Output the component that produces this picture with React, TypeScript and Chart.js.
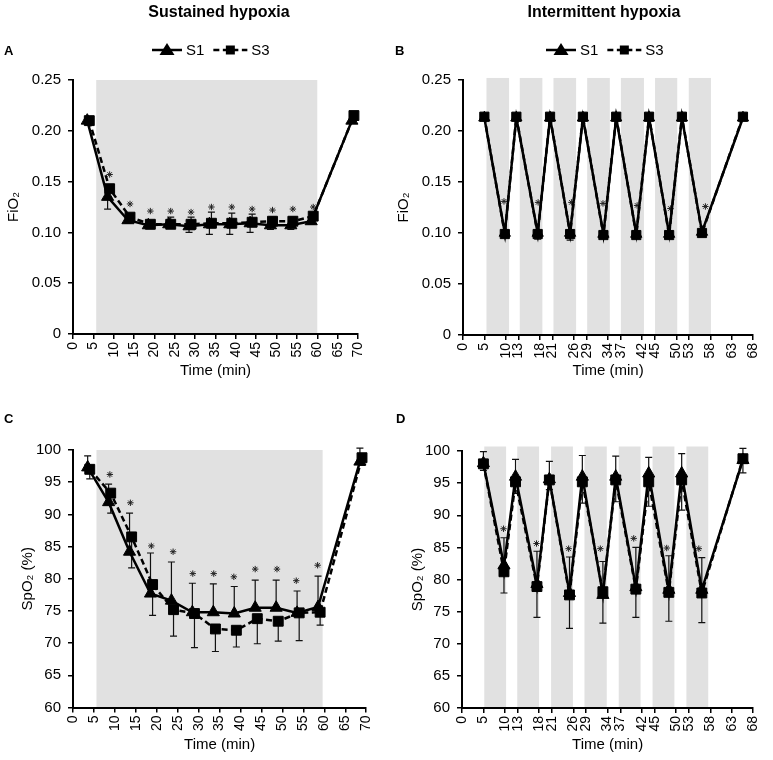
import React, { useEffect, useRef } from "react";
import { Chart, registerables } from "chart.js";

Chart.register(...registerables);

const FONT = "'Liberation Sans', Arial, Helvetica, sans-serif";
const SHADE = "#e1e1e1";

// ---------- text ----------
const PANEL_TITLES = ["Sustained hypoxia", "Intermittent hypoxia"];
const PANEL_LETTERS = ["A", "B", "C", "D"];
const LEGEND_LABELS = ["S1", "S3"];
const X_TITLE = "Time (min)";
const FIO2_TITLE = "FiO₂";
const SPO2_TITLE = "SpO₂ (%)";

// ---------- ticks ----------
const SH_X_TICKS = [0, 5, 10, 15, 20, 25, 30, 35, 40, 45, 50, 55, 60, 65, 70];
const IH_X_TICKS = [0, 5, 10, 13, 18, 21, 26, 29, 34, 37, 42, 45, 50, 53, 58, 63, 68];
const FIO2_TICKS = [0, 0.05, 0.1, 0.15, 0.2, 0.25];
const FIO2_TICK_LABELS = ["0", "0.05", "0.10", "0.15", "0.20", "0.25"];
const SPO2_TICKS = [60, 65, 70, 75, 80, 85, 90, 95, 100];
const SPO2_TICK_LABELS = ["60", "65", "70", "75", "80", "85", "90", "95", "100"];

// ---------- shaded hypoxic periods (min) ----------
const SH_SHADE_A = [[5.7, 60]];
const SH_SHADE_C = [[5.6, 59.6]];
const IH_SHADE_B = [[5.5, 10.8], [13.3, 18.6], [21.2, 26.5], [29.1, 34.4], [37, 42.4], [45, 50.2], [52.9, 58.1]];
const IH_SHADE_D = [[5.2, 10.3], [12.9, 18], [20.8, 25.9], [28.6, 33.8], [36.6, 41.7], [44.5, 49.6], [52.4, 57.5]];

// ---------- Sustained hypoxia ----------
const SH_TIME_S1 = [3.5, 8.5, 13.5, 18.5, 23.5, 28.5, 33.5, 38.5, 43.5, 48.5, 53.5, 58.5, 68.5];
const SH_TIME_S3 = [4, 9, 14, 19, 24, 29, 34, 39, 44, 49, 54, 59, 69];

const SH_FIO2_S1 = [0.21, 0.135, 0.112, 0.107, 0.108, 0.106, 0.108, 0.108, 0.109, 0.107, 0.107, 0.111, 0.21];
const SH_FIO2_S1_ERR = [0.002, 0.012, 0.003, 0.003, 0.003, 0.006, 0.01, 0.01, 0.009, 0.004, 0.004, 0.003, 0.002];
const SH_FIO2_S3 = [0.21, 0.143, 0.115, 0.108, 0.108, 0.108, 0.109, 0.109, 0.11, 0.111, 0.111, 0.116, 0.215];
const SH_FIO2_S3_ERR = [0.002, 0.004, 0.003, 0.003, 0.007, 0.007, 0.011, 0.01, 0.008, 0.004, 0.004, 0.003, 0.002];
const SH_FIO2_STAR_X = [9, 14, 19, 24, 29, 34, 39, 44, 49, 54, 59];
const SH_FIO2_STAR_Y = [0.157, 0.128, 0.121, 0.121, 0.12, 0.125, 0.125, 0.123, 0.122, 0.123, 0.125];

const SH_SPO2_S1 = [97.3, 91.9, 84.2, 77.7, 76.6, 74.8, 74.8, 74.6, 75.5, 75.5, 74.7, 75.6, 98.2];
const SH_SPO2_S1_ERR = [1.8, 2.8, 6.0, 6.3, 6.0, 4.5, 4.4, 4.2, 4.3, 4.3, 3.4, 4.8, 2.1];
const SH_SPO2_S3 = [97.0, 93.3, 86.5, 79.1, 75.2, 74.6, 72.2, 72.0, 73.8, 73.4, 74.7, 74.8, 98.8];
const SH_SPO2_S3_ERR = [1.5, 3.1, 4.8, 4.8, 4.1, 5.3, 3.5, 2.6, 3.9, 3.1, 4.3, 2.0, 1.2];
const SH_SPO2_STAR_X = [8.8, 13.7, 18.7, 23.9, 28.6, 33.6, 38.4, 43.5, 48.7, 53.3, 58.4];
const SH_SPO2_STAR_Y = [96.2, 91.8, 85.1, 84.2, 80.8, 80.8, 80.3, 81.5, 81.5, 79.7, 82.1];

// ---------- Intermittent hypoxia ----------
const IH_TIME = [5, 9.8, 12.5, 17.5, 20.4, 25.1, 28.1, 32.9, 35.9, 40.6, 43.6, 48.3, 51.3, 56, 65.6];

const IH_FIO2_S1 = [0.213, 0.1, 0.213, 0.1, 0.213, 0.1, 0.213, 0.099, 0.213, 0.099, 0.213, 0.099, 0.213, 0.101, 0.213];
const IH_FIO2_S1_ERR = [0.002, 0.002, 0.002, 0.002, 0.002, 0.002, 0.002, 0.002, 0.002, 0.002, 0.002, 0.002, 0.002, 0.002, 0.002];
const IH_FIO2_S3 = [0.214, 0.099, 0.214, 0.099, 0.214, 0.099, 0.214, 0.098, 0.214, 0.098, 0.214, 0.098, 0.214, 0.1, 0.214];
const IH_FIO2_S3_ERR = [0.002, 0.003, 0.002, 0.005, 0.002, 0.006, 0.002, 0.003, 0.002, 0.003, 0.002, 0.003, 0.002, 0.002, 0.002];
const IH_FIO2_STAR_X = [9.6, 17.6, 25.4, 32.8, 40.8, 48.6, 56.8];
const IH_FIO2_STAR_Y = [0.131, 0.13, 0.13, 0.129, 0.127, 0.124, 0.126];

const IH_SPO2_S1 = [98.1, 82.2, 96.0, 79.3, 95.6, 77.9, 96.0, 77.6, 96.0, 78.8, 96.5, 78.4, 96.5, 78.4, 98.6];
const IH_SPO2_S1_ERR = [1.8, 4.3, 2.7, 5.1, 2.8, 5.6, 3.3, 5.2, 3.2, 6.2, 2.5, 5.3, 3.1, 5.0, 1.8];
const IH_SPO2_S3 = [98.0, 81.2, 95.2, 78.9, 95.5, 77.6, 95.2, 78.1, 95.5, 78.5, 95.2, 78.0, 95.5, 77.9, 98.8];
const IH_SPO2_S3_ERR = [1.0, 3.3, 1.8, 4.8, 1.5, 5.2, 3.3, 4.9, 3.4, 4.4, 3.8, 4.5, 4.7, 4.6, 2.2];
const IH_SPO2_STAR_X = [9.7, 17.4, 24.9, 32.3, 40.1, 47.8, 55.3];
const IH_SPO2_STAR_Y = [87.9, 85.6, 84.8, 84.8, 86.4, 84.9, 84.8];

type PanelCfg = {
  w: number;
  h: number;
  left: number;
  top: number;
  pad: { left: number; right: number; top: number; bottom: number };
  yW: number;
  xH: number;
  yTitlePad: number;
  xTitlePad: number;
  xMin: number;
  xMax: number;
  xTicks: number[];
  yMin: number;
  yMax: number;
  yTicks: number[];
  yLabels: string[];
  yTitle: string;
  shade: number[][];
  shadeTop: number;
  t1: number[];
  t3: number[];
  s1: number[];
  s3: number[];
  e1: number[];
  e3: number[];
  d1: number;
  d3: number;
  starX: number[];
  starY: number[];
  r: number;
  legendX?: number;
  legendY?: number;
};

function drawLegend(ctx: CanvasRenderingContext2D, x0: number, y: number) {
  ctx.save();
  ctx.font = `15px ${FONT}`;
  ctx.textBaseline = "middle";
  ctx.textAlign = "left";
  ctx.fillStyle = "#000";
  ctx.strokeStyle = "#000";
  ctx.lineWidth = 2.5;
  let x = x0;
  LEGEND_LABELS.forEach((lab, i) => {
    const len = i === 0 ? 30 : 34;
    ctx.setLineDash(i === 0 ? [] : [6, 3.5]);
    ctx.beginPath();
    ctx.moveTo(x, y);
    ctx.lineTo(x + len, y);
    ctx.stroke();
    ctx.setLineDash([]);
    const cx = x + len / 2;
    ctx.beginPath();
    if (i === 0) {
      ctx.moveTo(cx, y - 7);
      ctx.lineTo(cx + 7.5, y + 5);
      ctx.lineTo(cx - 7.5, y + 5);
      ctx.closePath();
    } else {
      ctx.rect(cx - 4.5, y - 4.5, 9, 9);
    }
    ctx.fill();
    x += len + 4;
    ctx.fillText(lab, x, y + 1);
    x += ctx.measureText(lab).width + 9;
  });
  ctx.restore();
}

function makeDecor(p: PanelCfg) {
  return {
    id: "decor",
    beforeDraw(chart: any) {
      const { ctx } = chart;
      const xs = chart.scales.x;
      const ys = chart.scales.y;
      ctx.save();
      ctx.fillStyle = SHADE;
      const yt = ys.getPixelForValue(p.shadeTop);
      const yb = ys.getPixelForValue(p.yMin);
      for (const [a, b] of p.shade) {
        const x0 = xs.getPixelForValue(a);
        const x1 = xs.getPixelForValue(b);
        ctx.fillRect(x0, yt, x1 - x0, yb - yt);
      }
      ctx.restore();
    },
    beforeDatasetsDraw(chart: any) {
      const { ctx } = chart;
      const xs = chart.scales.x;
      const ys = chart.scales.y;
      ctx.save();
      ctx.strokeStyle = "#111";
      ctx.lineWidth = 1.2;
      chart.data.datasets.forEach((ds: any) => {
        if (!ds.err) return;
        ds.data.forEach((pt: any, j: number) => {
          const e = ds.err[j];
          const px = xs.getPixelForValue(pt.x);
          const py = ys.getPixelForValue(pt.y);
          const pe = ys.getPixelForValue(pt.y + ds.errDir * e);
          ctx.beginPath();
          ctx.moveTo(px, py);
          ctx.lineTo(px, pe);
          ctx.moveTo(px - 3.5, pe);
          ctx.lineTo(px + 3.5, pe);
          ctx.stroke();
        });
      });
      ctx.restore();
    },
    afterDraw(chart: any) {
      if (p.legendX !== undefined) drawLegend(chart.ctx, p.legendX, p.legendY || 50);
    },
  };
}

function buildConfig(p: PanelCfg): any {
  const xTickFont = { family: FONT, size: 14 };
  const yTickFont = { family: FONT, size: 15 };
  const titleFont = { family: FONT, size: 15 };
  const datasets = [
    {
      label: LEGEND_LABELS[0],
      data: p.t1.map((t, i) => ({ x: t, y: p.s1[i] })),
      showLine: true,
      borderColor: "#000",
      backgroundColor: "#000",
      borderWidth: 2.5,
      pointStyle: "triangle",
      pointRadius: p.r,
      pointBorderWidth: 1,
      pointBorderColor: "#000",
      pointBackgroundColor: "#000",
      tension: 0,
      clip: false,
      err: p.e1,
      errDir: p.d1,
    },
    {
      label: LEGEND_LABELS[1],
      data: p.t3.map((t, i) => ({ x: t, y: p.s3[i] })),
      showLine: true,
      borderColor: "#000",
      backgroundColor: "#000",
      borderWidth: 2.5,
      borderDash: [6, 3.5],
      pointStyle: "rect",
      pointRadius: p.r,
      pointBorderWidth: 1,
      pointBorderColor: "#000",
      pointBackgroundColor: "#000",
      tension: 0,
      clip: false,
      err: p.e3,
      errDir: p.d3,
    },
    {
      label: "*",
      data: p.starX.map((x, i) => ({ x, y: p.starY[i] })),
      showLine: false,
      pointStyle: "star",
      pointRadius: 3.2,
      pointBorderWidth: 1,
      pointBorderColor: "#222",
      borderColor: "#222",
      backgroundColor: "#222",
      clip: false,
    },
  ];
  return {
    type: "scatter",
    data: { datasets },
    plugins: [makeDecor(p)],
    options: {
      responsive: false,
      maintainAspectRatio: false,
      animation: false,
      events: [],
      layout: { padding: p.pad },
      plugins: {
        legend: { display: false },
        tooltip: { enabled: false },
        title: { display: false },
      },
      scales: {
        x: {
          type: "linear",
          min: p.xMin,
          max: p.xMax,
          afterBuildTicks: (s: any) => {
            s.ticks = p.xTicks.map((v) => ({ value: v }));
          },
          afterFit: (s: any) => {
            s.height = p.xH;
          },
          ticks: {
            autoSkip: false,
            minRotation: 90,
            maxRotation: 90,
            padding: 3,
            color: "#000",
            font: xTickFont,
            callback: (v: any) => String(v),
          },
          grid: { drawOnChartArea: false, drawTicks: true, tickLength: 5, color: "#000", lineWidth: 1.5 },
          border: { display: true, color: "#000", width: 2 },
          title: {
            display: true,
            text: X_TITLE,
            color: "#000",
            font: titleFont,
            padding: { top: 0, bottom: p.xTitlePad },
          },
        },
        y: {
          type: "linear",
          min: p.yMin,
          max: p.yMax,
          afterBuildTicks: (s: any) => {
            s.ticks = p.yTicks.map((v) => ({ value: v }));
          },
          afterFit: (s: any) => {
            s.width = p.yW;
          },
          ticks: {
            autoSkip: false,
            padding: 7,
            color: "#000",
            font: yTickFont,
            callback: (_v: any, i: number) => p.yLabels[i],
          },
          grid: { drawOnChartArea: false, drawTicks: true, tickLength: 5, color: "#000", lineWidth: 1.5 },
          border: { display: true, color: "#000", width: 2 },
          title: {
            display: true,
            text: p.yTitle,
            color: "#000",
            font: titleFont,
            padding: { top: p.yTitlePad, bottom: 0 },
          },
        },
      },
    },
  };
}

const PANELS: PanelCfg[] = [
  {
    w: 386, h: 380, left: 0, top: 0,
    pad: { left: 0, right: 28, top: 80, bottom: 0 },
    yW: 73, xH: 46, yTitlePad: 5, xTitlePad: 0,
    xMin: 0, xMax: 70, xTicks: SH_X_TICKS,
    yMin: 0, yMax: 0.25, yTicks: FIO2_TICKS, yLabels: FIO2_TICK_LABELS, yTitle: FIO2_TITLE,
    shade: SH_SHADE_A, shadeTop: 0.25,
    t1: SH_TIME_S1, t3: SH_TIME_S3, s1: SH_FIO2_S1, s3: SH_FIO2_S3,
    e1: SH_FIO2_S1_ERR, e3: SH_FIO2_S3_ERR, d1: -1, d3: 1,
    starX: SH_FIO2_STAR_X, starY: SH_FIO2_STAR_Y, r: 7,
    legendX: 152, legendY: 50,
  },
  {
    w: 383, h: 380, left: 390, top: 0,
    pad: { left: 0, right: 12, top: 80, bottom: 0 },
    yW: 73, xH: 45, yTitlePad: 5, xTitlePad: 0,
    xMin: 0, xMax: 68, xTicks: IH_X_TICKS,
    yMin: 0, yMax: 0.25, yTicks: FIO2_TICKS, yLabels: FIO2_TICK_LABELS, yTitle: FIO2_TITLE,
    shade: IH_SHADE_B, shadeTop: 0.252,
    t1: IH_TIME, t3: IH_TIME, s1: IH_FIO2_S1, s3: IH_FIO2_S3,
    e1: IH_FIO2_S1_ERR, e3: IH_FIO2_S3_ERR, d1: 1, d3: -1,
    starX: IH_FIO2_STAR_X, starY: IH_FIO2_STAR_Y, r: 6.5,
    legendX: 156, legendY: 50,
  },
  {
    w: 386, h: 380, left: 0, top: 380,
    pad: { left: 0, right: 19, top: 70, bottom: 0 },
    yW: 73, xH: 52.5, yTitlePad: 19, xTitlePad: 6,
    xMin: 0, xMax: 70, xTicks: SH_X_TICKS,
    yMin: 60, yMax: 100, yTicks: SPO2_TICKS, yLabels: SPO2_TICK_LABELS, yTitle: SPO2_TITLE,
    shade: SH_SHADE_C, shadeTop: 100,
    t1: SH_TIME_S1, t3: SH_TIME_S3, s1: SH_SPO2_S1, s3: SH_SPO2_S3,
    e1: SH_SPO2_S1_ERR, e3: SH_SPO2_S3_ERR, d1: 1, d3: -1,
    starX: SH_SPO2_STAR_X, starY: SH_SPO2_STAR_Y, r: 7,
  },
  {
    w: 383, h: 380, left: 390, top: 380,
    pad: { left: 0, right: 13, top: 71, bottom: 0 },
    yW: 72, xH: 52, yTitlePad: 19.3, xTitlePad: 6,
    xMin: 0, xMax: 68, xTicks: IH_X_TICKS,
    yMin: 60, yMax: 100, yTicks: SPO2_TICKS, yLabels: SPO2_TICK_LABELS, yTitle: SPO2_TITLE,
    shade: IH_SHADE_D, shadeTop: 100.7,
    t1: IH_TIME, t3: IH_TIME, s1: IH_SPO2_S1, s3: IH_SPO2_S3,
    e1: IH_SPO2_S1_ERR, e3: IH_SPO2_S3_ERR, d1: 1, d3: -1,
    starX: IH_SPO2_STAR_X, starY: IH_SPO2_STAR_Y, r: 7,
  },
];

function Panel({ cfg }: { cfg: PanelCfg }) {
  const ref = useRef<HTMLCanvasElement>(null);
  useEffect(() => {
    if (!ref.current) return;
    const chart = new Chart(ref.current, buildConfig(cfg));
    return () => chart.destroy();
  }, [cfg]);
  return (
    <canvas
      ref={ref}
      width={cfg.w}
      height={cfg.h}
      style={{ position: "absolute", left: cfg.left, top: cfg.top, width: cfg.w, height: cfg.h }}
    />
  );
}

const LETTER_POS = [
  { left: 4, top: 44 },
  { left: 395, top: 44 },
  { left: 4, top: 412 },
  { left: 396, top: 412 },
];
const TITLE_CENTERS = [219, 604];

export default function App() {
  return (
    <div
      style={{
        position: "absolute",
        left: 0,
        top: 0,
        width: 773,
        height: 760,
        background: "#fff",
        fontFamily: FONT,
        color: "#000",
        overflow: "hidden",
      }}
    >
      {PANELS.map((p, i) => (
        <Panel key={i} cfg={p} />
      ))}
      {PANEL_TITLES.map((t, i) => (
        <div
          key={"t" + i}
          style={{
            position: "absolute",
            left: TITLE_CENTERS[i] - 150,
            width: 300,
            top: 4,
            textAlign: "center",
            fontWeight: "bold",
            fontSize: 16,
            lineHeight: "16px",
            whiteSpace: "nowrap",
          }}
        >
          {t}
        </div>
      ))}
      {PANEL_LETTERS.map((l, i) => (
        <div
          key={"l" + i}
          style={{
            position: "absolute",
            left: LETTER_POS[i].left,
            top: LETTER_POS[i].top,
            fontWeight: "bold",
            fontSize: 13,
            lineHeight: "13px",
          }}
        >
          {l}
        </div>
      ))}
    </div>
  );
}
